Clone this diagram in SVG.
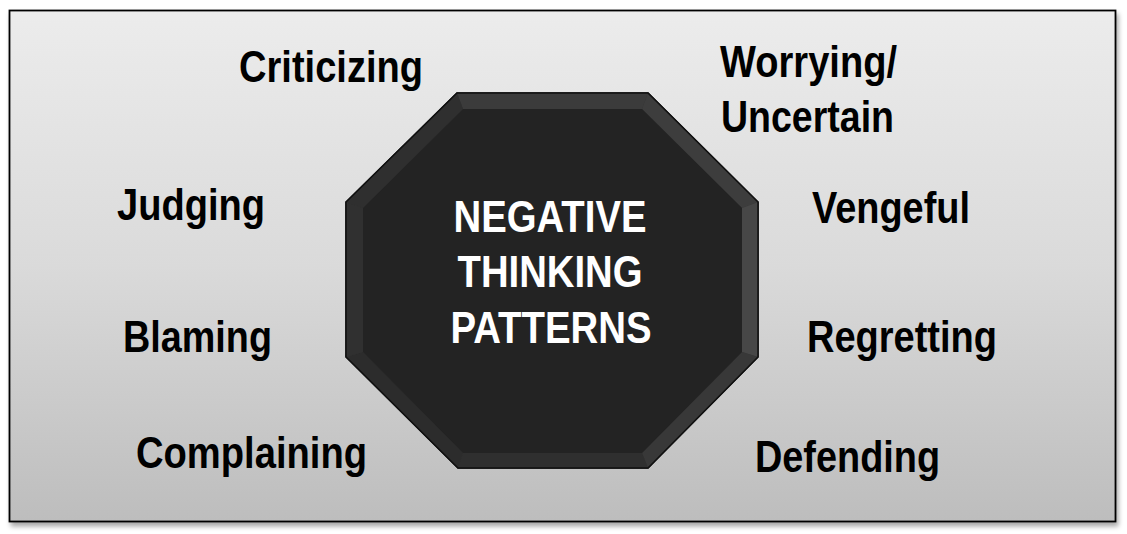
<svg xmlns="http://www.w3.org/2000/svg" width="1127" height="534" viewBox="0 0 1127 534">
<defs>
<linearGradient id="bg" x1="0" y1="0" x2="0" y2="1">
<stop offset="0" stop-color="#ececec"/>
<stop offset="0.5" stop-color="#dadada"/>
<stop offset="1" stop-color="#bdbdbd"/>
</linearGradient>
<filter id="sh" x="-5%" y="-5%" width="110%" height="115%">
<feGaussianBlur in="SourceAlpha" stdDeviation="2.5"/>
<feOffset dx="2" dy="4"/>
<feComponentTransfer><feFuncA type="linear" slope="0.35"/></feComponentTransfer>
<feMerge><feMergeNode/><feMergeNode in="SourceGraphic"/></feMerge>
</filter>
</defs>
<style>
.lbl{font-family:"Liberation Sans",Arial,sans-serif;font-weight:bold;font-size:45px;fill:#000;}
.ctr{font-family:"Liberation Sans",Arial,sans-serif;font-weight:bold;font-size:45px;fill:#fff;text-anchor:middle;}
</style>
<rect width="1127" height="534" fill="#ffffff"/>
<g id="frame">
<rect x="9.5" y="10.5" width="1106" height="511" fill="url(#bg)" stroke="#000" stroke-width="1.8" filter="url(#sh)"/>
</g>
<g id="connectors"></g>
<g id="center">
<polygon points="457,93 648,93 758,202 758,357 648,468 458,468 346,357 346,202" fill="#333" stroke="#111" stroke-width="1.5"/>
<polygon points="457,93 648,93 642,109 463,109" fill="#3b3b3b"/>
<polygon points="648,93 758,202 742,208 642,109" fill="#3d3d3d"/>
<polygon points="758,202 758,357 742,352 742,208" fill="#474747"/>
<polygon points="758,357 648,468 642,453 742,352" fill="#383838"/>
<polygon points="648,468 458,468 463,453 642,453" fill="#2f2f2f"/>
<polygon points="458,468 346,357 363,352 463,453" fill="#2c2c2c"/>
<polygon points="346,357 346,202 363,208 363,352" fill="#303030"/>
<polygon points="346,202 457,93 463,109 363,208" fill="#2f2f2f"/>
<polygon points="463,109 642,109 742,208 742,352 642,453 463,453 363,352 363,208" fill="#232323"/>
<polygon points="457,93 648,93 758,202 758,357 648,468 458,468 346,357 346,202" fill="none" stroke="#111" stroke-width="1.5"/>
<text class="ctr" x="550" y="232" textLength="193" lengthAdjust="spacingAndGlyphs">NEGATIVE</text>
<text class="ctr" x="550" y="287" textLength="185" lengthAdjust="spacingAndGlyphs">THINKING</text>
<text class="ctr" x="551" y="343" textLength="201" lengthAdjust="spacingAndGlyphs">PATTERNS</text>
</g>
<g id="criticizing"><text class="lbl" x="239" y="82" textLength="184" lengthAdjust="spacingAndGlyphs">Criticizing</text></g>
<g id="judging"><text class="lbl" x="117" y="220" textLength="148" lengthAdjust="spacingAndGlyphs">Judging</text></g>
<g id="blaming"><text class="lbl" x="123" y="352" textLength="149" lengthAdjust="spacingAndGlyphs">Blaming</text></g>
<g id="complaining"><text class="lbl" x="136" y="468" textLength="231" lengthAdjust="spacingAndGlyphs">Complaining</text></g>
<g id="worrying"><text class="lbl" x="720" y="77" textLength="177" lengthAdjust="spacingAndGlyphs">Worrying/</text><text class="lbl" x="721" y="132" textLength="173" lengthAdjust="spacingAndGlyphs">Uncertain</text></g>
<g id="vengeful"><text class="lbl" x="812" y="223" textLength="158" lengthAdjust="spacingAndGlyphs">Vengeful</text></g>
<g id="regretting"><text class="lbl" x="807" y="352" textLength="190" lengthAdjust="spacingAndGlyphs">Regretting</text></g>
<g id="defending"><text class="lbl" x="755" y="472" textLength="185" lengthAdjust="spacingAndGlyphs">Defending</text></g>
</svg>
